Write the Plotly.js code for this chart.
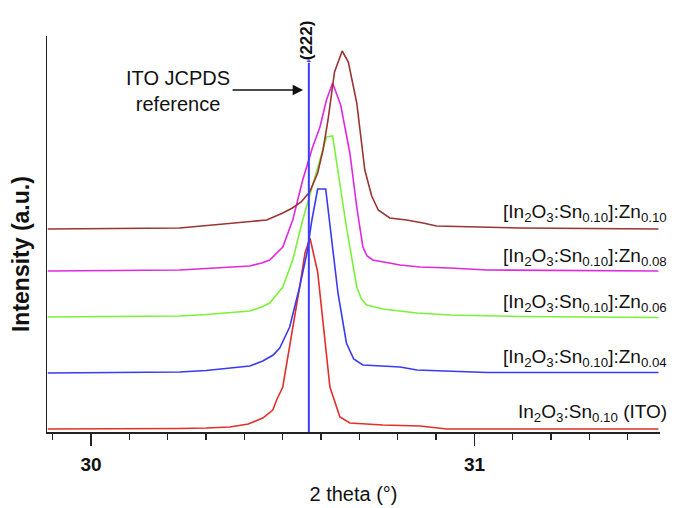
<!DOCTYPE html>
<html>
<head>
<meta charset="utf-8">
<script src="https://cdn.plot.ly/plotly-3.0.1.min.js"></script>
<style>html,body{margin:0;padding:0;background:#fff;}#chart{width:684px;height:508px;}</style>
</head>
<body>
<div id="chart"></div>
<script>
// 2 theta (deg) and intensity (a.u., stacked offsets as drawn)
const ito_x = [29.887, 30.10, 30.231, 30.30, 30.362, 30.410, 30.448, 30.474, 30.484, 30.500, 30.526, 30.544, 30.558, 30.571, 30.591, 30.605, 30.623, 30.649, 30.675, 30.761, 30.858, 30.928, 31.48];
const ito_y = [3, 3, 3.5, 4, 5, 8, 14, 22, 32, 45, 102, 145, 179, 194, 160, 112, 45, 15, 9, 7, 6, 3, 3];

const zn04_x = [29.887, 30.10, 30.231, 30.30, 30.362, 30.414, 30.448, 30.475, 30.492, 30.518, 30.544, 30.563, 30.576, 30.591, 30.612, 30.627, 30.644, 30.666, 30.685, 30.709, 30.806, 30.850, 30.936, 31.033, 31.48];
const zn04_y = [59, 59.5, 60, 61.5, 64, 66, 71, 77, 84, 105, 145, 179, 212, 243, 243, 195, 139, 89, 73, 67, 65, 62, 61, 59.5, 59.5];

const zn06_x = [29.887, 30.10, 30.231, 30.30, 30.362, 30.414, 30.445, 30.466, 30.500, 30.526, 30.552, 30.576, 30.597, 30.614, 30.630, 30.644, 30.666, 30.693, 30.705, 30.719, 30.761, 30.850, 30.936, 31.119, 31.48];
const zn06_y = [115, 115.5, 116, 117.5, 119, 121, 125, 129, 145, 172, 212, 245, 272, 295, 296, 262, 205, 145, 133, 127, 123, 119, 117, 115.5, 114.5];

const zn08_x = [29.887, 30.10, 30.231, 30.30, 30.362, 30.414, 30.445, 30.466, 30.500, 30.526, 30.552, 30.578, 30.597, 30.614, 30.630, 30.651, 30.675, 30.693, 30.709, 30.720, 30.735, 30.806, 30.858, 30.936, 31.033, 31.48];
const zn08_y = [161, 161.5, 162, 163.5, 165, 166, 169, 172, 185, 212, 252, 285, 305, 332, 349, 327, 279, 225, 185, 176, 172, 167, 165, 164, 162, 161];

const zn10_x = [29.887, 30.10, 30.231, 30.317, 30.406, 30.458, 30.500, 30.525, 30.548, 30.570, 30.591, 30.605, 30.618, 30.635, 30.655, 30.671, 30.693, 30.714, 30.732, 30.749, 30.779, 30.823, 30.866, 30.901, 31.119, 31.48];
const zn10_y = [203, 203.5, 204, 207, 210, 212, 219, 224, 230, 240, 259, 282, 312, 360, 381, 370, 329, 262, 236, 222, 214, 212, 209, 206, 204, 203];

const ref_x = [30.568, 30.568];
const ref_y = [0, 371];

const seriesLabels = [
  '[In<sub>2</sub>O<sub>3</sub>:Sn<sub>0.10</sub>]:Zn<sub>0.10</sub>',
  '[In<sub>2</sub>O<sub>3</sub>:Sn<sub>0.10</sub>]:Zn<sub>0.08</sub>',
  '[In<sub>2</sub>O<sub>3</sub>:Sn<sub>0.10</sub>]:Zn<sub>0.06</sub>',
  '[In<sub>2</sub>O<sub>3</sub>:Sn<sub>0.10</sub>]:Zn<sub>0.04</sub>',
  'In<sub>2</sub>O<sub>3</sub>:Sn<sub>0.10</sub> (ITO)'
];
const labelY = [219, 175, 129, 74, 19];
const tickVals = [30, 31];
const tickText = ['30', '31'];

const FONT = 'Liberation Sans, Arial, sans-serif';
function line(x, y, color) {
  return {x: x, y: y, type: 'scatter', mode: 'lines', line: {color: color, width: 1.6}, hoverinfo: 'skip', showlegend: false};
}
const traces = [
  line(ito_x, ito_y, '#e0302c'),
  line(zn04_x, zn04_y, '#3a3af0'),
  line(zn06_x, zn06_y, '#7ef03a'),
  line(zn08_x, zn08_y, '#e028e0'),
  line(zn10_x, zn10_y, '#9a3535'),
  {x: ref_x, y: ref_y, type: 'scatter', mode: 'lines+markers', line: {color: '#3c3cff', width: 2},
   marker: {size: [0, 6], symbol: 'triangle-up', color: '#3c3cff'}, hoverinfo: 'skip', showlegend: false}
];

const annotations = seriesLabels.map((t, i) => ({
  text: t, xref: 'paper', x: 1.015, xanchor: 'right', yref: 'y', y: labelY[i], yanchor: 'middle',
  showarrow: false, font: {family: FONT, size: 19, color: '#111'}
}));
annotations.push({
  text: 'ITO JCPDS<br>reference', xref: 'x', yref: 'y', x: 30.226, y: 341, showarrow: false,
  font: {family: FONT, size: 20, color: '#111'}, align: 'center'
});
annotations.push({
  text: '', xref: 'x', yref: 'y', x: 30.553, y: 342, ax: -72, ay: 0, showarrow: true,
  arrowhead: 2, arrowsize: 1.3, arrowwidth: 1.6, arrowcolor: '#111', standoff: 0
});
annotations.push({
  text: '(222)', xref: 'x', yref: 'paper', x: 30.564, y: 0.99, yanchor: 'middle', textangle: -90, showarrow: false,
  font: {family: FONT, size: 17, color: '#111', weight: 'bold'}
});
annotations.push({
  text: 'Intensity (a.u.)', xref: 'paper', yref: 'paper', x: -0.042, xanchor: 'center', y: 0.45, textangle: -90, showarrow: false,
  font: {family: FONT, size: 23, color: '#111', weight: 'bold'}
});

const layout = {
  width: 684, height: 508,
  margin: {l: 47, r: 24, t: 36, b: 76},
  paper_bgcolor: '#fff', plot_bgcolor: '#fff',
  showlegend: false,
  xaxis: {
    range: [29.885, 31.484], showline: true, linecolor: '#222', linewidth: 1.5,
    ticks: 'outside', tickvals: tickVals, ticktext: tickText, ticklen: 12, tickwidth: 1.5, tickcolor: '#222',
    ticklabelstandoff: 3,
    tickfont: {family: FONT, size: 19, color: '#111', weight: 'bold'},
    minor: {ticks: 'outside', ticklen: 6, dtick: 0.1, tick0: 30, tickwidth: 1.3, tickcolor: '#222', showgrid: false},
    showgrid: false, zeroline: false,
    title: {text: '2 theta (°)', font: {family: FONT, size: 20, color: '#111'}, standoff: 12}
  },
  yaxis: {
    range: [0, 396], showline: true, linecolor: '#222', linewidth: 1.5,
    showticklabels: false, ticks: '', showgrid: false, zeroline: false
  },
  annotations: annotations
};
Plotly.newPlot('chart', traces, layout, {displayModeBar: false, staticPlot: true});
</script>
</body>
</html>
